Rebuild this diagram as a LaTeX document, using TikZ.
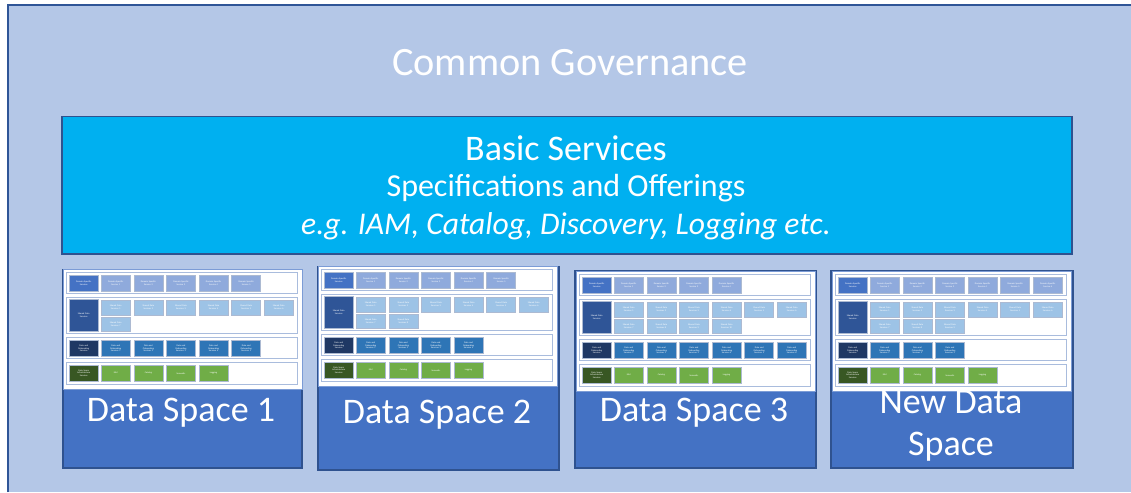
\documentclass[tikz,border=0pt]{standalone}
\usepackage{fontspec}
\setmainfont{Carlito}

\definecolor{govbg}{HTML}{B4C7E7}
\definecolor{govline}{HTML}{2F5597}
\definecolor{basicfill}{HTML}{00B0F0}
\definecolor{boxline}{HTML}{2F528F}
\definecolor{dsfill}{HTML}{4472C4}
\definecolor{rowline}{HTML}{A9BCDD}
\definecolor{hdrA}{HTML}{4472C4}
\definecolor{svcA}{HTML}{8FAADC}
\definecolor{hdrB}{HTML}{2F5597}
\definecolor{svcB}{HTML}{9DC3E6}
\definecolor{hdrC}{HTML}{1F3864}
\definecolor{svcC}{HTML}{2E75B6}
\definecolor{hdrD}{HTML}{385723}
\definecolor{svcD}{HTML}{70AD47}

\tikzset{
  bigtext/.style={text=white, inner sep=0pt},
  dsbox/.style={draw=boxline, line width=1.5pt, fill=dsfill, anchor=north west, inner sep=0pt},
  inset/.style={draw=dsfill!70, line width=0.8pt, fill=white, anchor=north west, inner sep=0pt, minimum width=239pt, minimum height=120pt},
  rowbox/.style={draw=rowline, line width=1pt, fill=white, anchor=north west, inner sep=0pt, minimum width=231pt},
  tinybox/.style={draw=white!60!boxline, line width=0.5pt, anchor=north west, inner sep=0pt,
    minimum width=29pt, text width=27pt, align=center, text=white,
    font=\fontsize{2.3}{2.7}\selectfont},
}

% one data space panel: #1 name, #2 x, #3 y, #4..#7 number of services per layer
\newcommand\dsPanel[7]{%
  \node[inset] (#1in) at (#2,#3) {};
  % layer frames
  \node[rowbox, minimum height=21pt] (#1rowA) at (#2+3,#3+3) {};
  \node[rowbox, minimum height=36pt] (#1rowB) at (#2+3,#3+28) {};
  \node[rowbox, minimum height=21pt] (#1rowC) at (#2+3,#3+68) {};
  \node[rowbox, minimum height=22pt] (#1rowD) at (#2+3,#3+93) {};
  % layer headers
  \node[tinybox, fill=hdrA, minimum height=16pt] (#1hA) at (#2+6,#3+6) {Domain Specific\\Services};
  \node[tinybox, fill=hdrB, minimum height=32pt] (#1hB) at (#2+6,#3+30) {Shared Data\\Services};
  \node[tinybox, fill=hdrC, minimum height=16pt] (#1hC) at (#2+6,#3+71) {Data and\\Onboarding\\Services};
  \node[tinybox, fill=hdrD, minimum height=16pt] (#1hD) at (#2+6,#3+96) {Data Space\\Infrastructure\\Services};
  % layer services
  \foreach \i in {1,...,#4}{
    \node[tinybox, fill=svcA, minimum height=16pt] (#1a\i) at ({#2+38+(\i-1)*32.6},#3+6) {Domain Specific\\Service \i};
  }
  \foreach \i in {1,...,#5}{
    \pgfmathtruncatemacro\col{mod(\i-1,6)}
    \pgfmathtruncatemacro\lin{div(\i-1,6)}
    \node[tinybox, fill=svcB, minimum height=14.5pt] (#1b\i) at ({#2+38+\col*32.6},{#3+31+\lin*16.5}) {Shared Data\\Services \i};
  }
  \foreach \i in {1,...,#6}{
    \node[tinybox, fill=svcC, minimum height=16pt] (#1c\i) at ({#2+38+(\i-1)*32.6},#3+71) {Data and\\Onboarding\\Services \i};
  }
  \foreach \t [count=\i] in {IAM,Catalog,Semantic,Logging}{
    \node[tinybox, fill=svcD, minimum height=16pt] (#1d\i) at ({#2+38+(\i-1)*32.6},#3+96) {\t};
  }
}

\begin{document}
\begin{tikzpicture}[x=1pt,y=-1pt]
  \useasboundingbox (0,0) rectangle (1131,492);
  \fill[white] (0,0) rectangle (1131,492);

  % common governance frame
  \fill[govbg] (7.7,5) rectangle (1131,492);
  \draw[govline, line width=2pt] (7.7,492) -- (7.7,5) -- (1131,5);
  \node[bigtext, font=\fontsize{40.3}{48}\selectfont] (gov) at (570,63) {Common Governance};

  % basic services
  \node[draw=boxline, line width=1.5pt, fill=basicfill, anchor=north west, inner sep=0pt,
        minimum width=1010pt, minimum height=137pt] (basic) at (61,116) {};
  \node[bigtext, font=\fontsize{36}{43}\selectfont] (basicT) at (566,148) {Basic Services};
  \node[bigtext, font=\fontsize{32}{38}\selectfont] (specT) at (566,188) {Specifications and Offerings};
  \node[bigtext, font=\fontsize{31.6}{38}\itshape\selectfont] (egT) at (566,226) {e.g. IAM, Catalog, Discovery, Logging etc.};

  % data spaces
  \node[dsbox, minimum width=239pt, minimum height=198pt] (ds1) at (62,269) {};
  \node[dsbox, minimum width=241pt, minimum height=203pt] (ds2) at (317,266) {};
  \node[dsbox, minimum width=241pt, minimum height=197pt] (ds3) at (574,270) {};
  \node[dsbox, minimum width=242pt, minimum height=197pt] (ds4) at (830,270) {};

  \dsPanel{pa}{63}{269}{5}{7}{5}{4}
  \dsPanel{pb}{318}{266}{5}{8}{4}{4}
  \dsPanel{pc}{576}{271}{4}{10}{6}{4}
  \dsPanel{pd}{832}{271}{6}{9}{3}{4}

  \node[bigtext, font=\fontsize{36}{42}\selectfont] (ds1T) at (181,413) {Data Space 1};
  \node[bigtext, font=\fontsize{36}{42}\selectfont] (ds2T) at (437,415) {Data Space 2};
  \node[bigtext, font=\fontsize{36}{42}\selectfont] (ds3T) at (694,413) {Data Space 3};
  \node[bigtext, font=\fontsize{36}{42}\selectfont, align=center] (ds4T) at (951,426) {New Data\\Space};
\end{tikzpicture}
\end{document}
